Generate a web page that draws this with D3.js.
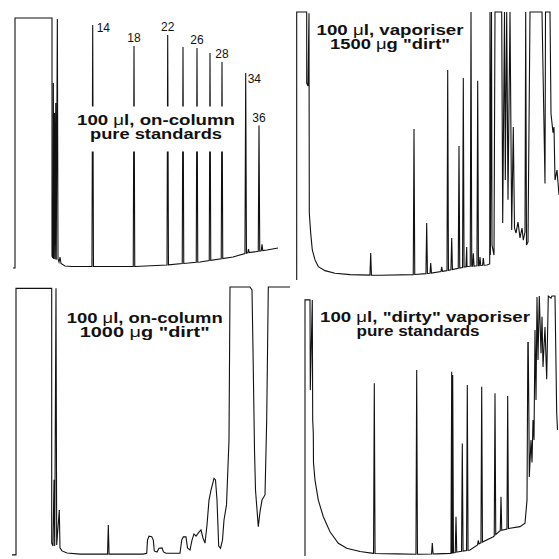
<!DOCTYPE html>
<html>
<head>
<meta charset="utf-8">
<script src="https://cdn.jsdelivr.net/npm/d3@7"></script>
<style>
body { margin: 0; background: #fff; }
svg { display: block; }
.trace { fill: none; stroke: #111; stroke-width: 1.1; stroke-linejoin: miter; }
.title { font-family: "Liberation Sans", Arial, sans-serif; font-weight: bold; font-size: 14px; fill: #111; }
.plabel { font-family: "Liberation Sans", Arial, sans-serif; font-size: 12px; fill: #111; }
</style>
</head>
<body>
<div id="chart"></div>
<script>
// retention time in minutes, signal in % of full scale (100 = off scale)

// A: 100 ul on-column, pure standards
var baseA = [[0.2,0],[0.6,0],[0.6,100],[8.0,100],[8.0,4.8],[8.2,4.0],[8.27,74],[8.35,3.6],
  [8.5,62],[8.6,3.5],[8.75,66],[8.85,3.3],[9.07,99.6],[9.2,3.6],[9.4,2.4],[9.6,4.4],[9.8,1.8],
  [10.6,0.8],[12,0.6],[17.6,0.6],[24.6,0.6],[31.0,1.2],[37.6,2.4],[44.2,4.4],[47.0,6.0],
  [51.0,7.2],[53.2,8.0]];
var peaksA = [[16.14,97.2,"14"],[24.4,88.8,"18"],[31.14,93.2,"22"],[34.2,88.4],[37.0,88.0,"26"],
  [39.6,86.0],[42.0,82.4,"28"],[46.74,78.0,"34"],[49.4,57,"36"],[47.3,7.6],[50.0,9.5]];
var titleA = ["100 μl, on-column", "pure standards"];

// B: 100 ul vaporiser, 1500 ug dirt
var baseB = [[0.54,0],[0.54,100],[2.54,100],[2.54,73.5],[2.8,72.4],[3.0,99.5],[3.06,25],
  [3.34,17.5],[3.66,11.2],[4.2,7.5],[4.86,5.0],[6.2,3.5],[8.2,2.5],[11.2,2.0],[17.2,1.75],
  [23.8,2.0],[27.2,2.5],[30.6,3.5],[34.6,5.0],[38.6,5.6],[39.14,6.0],[39.2,100],[39.28,9.3],
  [39.5,100],[39.6,13],[40.0,9.3],[40.2,100],[41.54,100],[41.74,21.3],[42.1,100],[42.26,37.3],
  [42.54,100],[42.8,29.9],[43.2,100],[43.54,18.7],[43.86,57.1],[44.1,19.4],[44.4,17.5],
  [44.8,21.6],[45.2,15.7],[45.6,19.4],[45.86,14.9],[46.2,17.9],[46.34,100],[46.5,13.1],
  [46.8,14.2],[47.2,100],[49.6,100],[50.2,36],[50.3,100],[51.2,100],[51.4,62],[51.8,55],
  [52.0,57.1],[52.2,37.3],[52.6,41],[53.0,31.7]];
var peaksB = [[15.34,10.1],[24.0,56.3],[26.54,21.3],[27.34,6.3],[29.54,4.9],[30.74,78.4],
  [31.54,15.7],[33.0,50],[33.86,75.4],[34.54,12.3],[35.4,100],[35.86,10],[36.74,74.3],
  [37.2,8.6],[37.86,8.2]];
var titleB = ["100 μl, vaporiser", "1500 μg \"dirt\""];

// C: 100 ul on-column, 1000 ug dirt
var baseC = [[0,0.4],[0.8,0.4],[0.8,99.5],[7.94,99.5],[7.94,4.8],[8.2,3.7],[8.4,28.3],[8.54,3.7],
  [8.8,99.5],[8.94,4.1],[9.46,17.1],[9.6,3.0],[10.0,1.9],[11.0,1.1],[13.6,0.7],[26.2,0.7],
  [26.94,1.0],[27.1,5.9],[27.4,7.4],[27.94,7.2],[28.26,5.9],[28.46,1.9],[29.0,1.5],[29.4,2.9],
  [30.0,3.0],[30.3,1.5],[30.8,1.0],[33.6,1.0],[33.94,5.9],[34.26,7.1],[34.8,7.1],[35.1,3.0],
  [35.6,2.2],[36.0,5.9],[36.4,8.2],[36.8,7.4],[37.4,8.9],[37.8,9.7],[38.2,6.7],[38.6,4.8],
  [39.0,11.5],[39.4,20.8],[39.8,24.5],[40.4,28.9],[40.7,28.3],[41.0,20.8],[41.34,3.7],
  [41.7,2.9],[42.1,5.9],[42.4,13.4],[42.9,19.0],[43.4,43.1],[43.6,100],[47.6,100],[48.0,98.9],
  [48.2,76.6],[48.5,39.4],[48.7,24.5],[49.26,10.9],[49.6,16.4],[50.0,20.8],[50.6,22.7],
  [50.94,50.6],[51.26,100],[55.6,100]];
var peaksC = [[19.26,11.5]];
var titleC = ["100 μl, on-column", "1000 μg \"dirt\""];

// D: 100 ul "dirty" vaporiser, pure standards
var baseD = [[2.2,0],[2.2,98.5],[3.2,98.5],[3.26,63.8],[3.66,98.5],[3.74,52.3],[3.86,47.3],
  [3.9,35.8],[4.2,29.2],[4.86,21.5],[5.86,15.1],[7.2,9.3],[8.86,4.9],[10.54,3.0],[13.2,1.7],
  [15.86,1.0],[20.54,0.8],[25.2,0.65],[28.54,0.8],[31.2,1.0],[33.2,1.7],[35.2,2.3],[37.2,4.9],
  [39.86,7.4],[41.2,9.7],[43.2,10.7],[45.2,11.3],[46.2,12.6],[46.6,21.5],[46.8,92],[47.0,48.5],
  [47.06,30.4],[47.4,44.6],[47.6,36],[47.8,52.3],[48.0,44.6],[48.2,86.9],[48.4,60],
  [48.6,99.6],[48.8,75.4],[49.06,100],[49.4,78],[49.6,92],[49.8,72.7],[50.2,88.1],[50.54,68],
  [50.86,100],[51.4,99.2],[51.6,100],[52.2,100],[52.54,55],[52.7,48.5]];
var peaksD = [[16.06,66.4],[24.54,71.5],[27.66,5.0],[31.54,70.9],[31.74,69.6],[32.4,15.1],
  [33.66,43.3],[34.66,65.8],[36.86,6.0],[37.54,65.1],[40.2,62.6],[41.4,22.8],[42.74,61.5]];
var titleD = ["100 μl, \"dirty\" vaporiser", "pure standards"];

var w = 559, h = 559;
var span = 53;       // minutes shown across one panel
var hw = 0.15;       // half width of a sharp peak, minutes

// layout of the four panels (pixels)
var panels = [
  { base: baseA, peaks: peaksA, title: titleA, x0: 12, y0: 268, y1: 18,
    tx: [156, 156], ty: [124.5, 138.5], tw: [158, 132], pad: [5, 3, 10] },
  { base: baseB, peaks: peaksB, title: titleB, x0: 294, y0: 280, y1: 12,
    tx: [390, 390], ty: [34.5, 48.5], tw: [147, 120], pad: [3, 3, 3] },
  { base: baseC, peaks: peaksC, title: titleC, x0: 12, y0: 556, y1: 287,
    tx: [144.7, 144.7], ty: [322.5, 336.5], tw: [156, 130], pad: [3, 3, 3] },
  { base: baseD, peaks: peaksD, title: titleD, x0: 294, y0: 556, y1: 296,
    tx: [425, 418], ty: [322, 336], tw: [210, 123], pad: [3, 3, 3] }
];

// where the peak numbers sit relative to the peak top
var labelRight = { "14": [4, 7], "34": [2, 10] };

function baseAt(base, t) {
  for (var i = 0; i < base.length - 1; i++) {
    var a = base[i], b = base[i + 1];
    if (b[0] > a[0] && t >= a[0] && t <= b[0]) {
      return a[1] + (b[1] - a[1]) * (t - a[0]) / (b[0] - a[0]);
    }
  }
  return base[base.length - 1][1];
}

function traceOf(base, peaks) {
  var pts = base.map(function(d, i) { return [d[0], d[1], i]; });
  peaks.forEach(function(p, j) {
    var k = base.length + j * 3;
    pts.push([p[0] - hw, baseAt(base, p[0] - hw), k]);
    pts.push([p[0], p[1], k + 1]);
    pts.push([p[0] + hw, baseAt(base, p[0] + hw), k + 2]);
  });
  pts.sort(function(a, b) { return a[0] - b[0] || a[2] - b[2]; });
  return pts;
}

var svg = d3.select("#chart").append("svg")
  .attr("width", w)
  .attr("height", h);

panels.forEach(function(p) {
  var xScale = d3.scaleLinear().domain([0, span]).range([p.x0, p.x0 + 265]);
  var yScale = d3.scaleLinear().domain([0, 100]).range([p.y0, p.y1]);

  var line = d3.line()
    .x(function(d) { return xScale(d[0]); })
    .y(function(d) { return yScale(d[1]); });

  var g = svg.append("g");

  g.append("path")
    .datum(traceOf(p.base, p.peaks))
    .attr("class", "trace")
    .attr("d", line);

  // peak numbers
  p.peaks.filter(function(d) { return d[2]; }).forEach(function(d) {
    var off = labelRight[d[2]];
    g.append("text")
      .attr("class", "plabel")
      .attr("x", xScale(d[0]) + (off ? off[0] : 0))
      .attr("y", yScale(d[1]) + (off ? off[1] : -4))
      .attr("text-anchor", off ? "start" : "middle")
      .text(d[2]);
  });

  // title block on a white patch
  var tg = g.append("g");
  var bg = tg.append("rect").attr("fill", "#fff");
  p.title.forEach(function(s, i) {
    var t = tg.append("text")
      .attr("class", "title")
      .attr("x", p.tx[i])
      .attr("y", p.ty[i])
      .attr("text-anchor", "middle")
      .attr("textLength", p.tw[i])
      .attr("lengthAdjust", "spacingAndGlyphs");
    s.split(/(μ)/).forEach(function(part) {
      if (!part) return;
      t.append("tspan")
        .style("font-weight", part === "μ" ? "normal" : null)
        .text(part);
    });
  });
  var bb = tg.node().getBBox();
  bg.attr("x", bb.x - p.pad[1])
    .attr("y", bb.y - p.pad[0])
    .attr("width", bb.width + 2 * p.pad[1])
    .attr("height", bb.height + p.pad[0] + p.pad[2]);
});
</script>
</body>
</html>
